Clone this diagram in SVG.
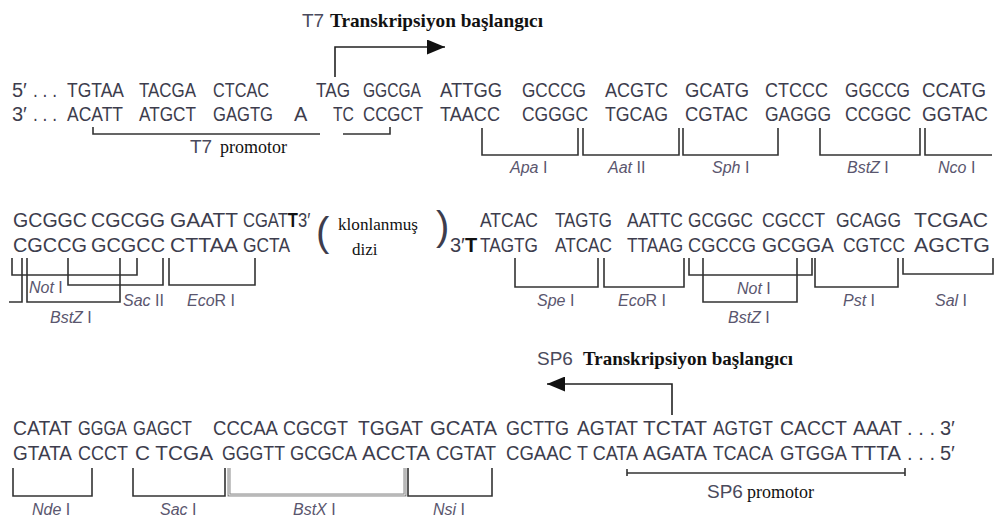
<svg xmlns="http://www.w3.org/2000/svg" width="998" height="521" viewBox="0 0 998 521">
<defs>
<style>
.s{font-family:"Liberation Sans",Arial,sans-serif;font-size:20px;fill:#3d3d4d;}
.b{font-weight:bold;fill:#111;}
.l{font-family:"Liberation Sans",Arial,sans-serif;font-size:16px;fill:#5a566e;}
.i{font-style:italic;}
.h{font-family:"Liberation Sans",Arial,sans-serif;font-size:19px;fill:#4a4a5c;}
.sf{font-family:"Liberation Serif","Times New Roman",serif;fill:#111;}
.t{font-family:"Liberation Serif","Times New Roman",serif;font-weight:bold;font-size:19px;fill:#111;}
.br{fill:none;stroke:#333;stroke-width:1.6;}
.bx{fill:none;stroke:#8a8a8a;stroke-width:3;}
.bxi{fill:none;stroke:#fff;stroke-width:0.8;}
.ar{fill:none;stroke:#222;stroke-width:1.6;}
.par{font-family:"Liberation Sans",Arial,sans-serif;font-size:40px;fill:#3d3d4d;}
</style>
<marker id="ah" markerUnits="userSpaceOnUse" markerWidth="18" markerHeight="15" refX="18" refY="7.5" orient="auto">
<path d="M0,0 L18,7.5 L0,15 z" fill="#111"/>
</marker>
</defs>
<rect width="998" height="521" fill="#fff"/>

<g id="t7-title">
<text class="h" x="302" y="27">T7</text>
<text class="t" x="330" y="27" textLength="213" lengthAdjust="spacingAndGlyphs">Transkripsiyon başlangıcı</text>
</g>

<g id="row1">
<text class="s" x="12" y="97">5′</text>
<text class="s" x="33" y="97" textLength="24" lengthAdjust="spacingAndGlyphs">. . .</text>
<text class="s" x="67" y="97" textLength="57" lengthAdjust="spacingAndGlyphs">TGTAA</text>
<text class="s" x="139" y="97" textLength="57" lengthAdjust="spacingAndGlyphs">TACGA</text>
<text class="s" x="213" y="97" textLength="56" lengthAdjust="spacingAndGlyphs">CTCAC</text>
<text class="s" x="316" y="97" textLength="34" lengthAdjust="spacingAndGlyphs">TAG</text>
<text class="s" x="363" y="97" textLength="58" lengthAdjust="spacingAndGlyphs">GGCGA</text>
<text class="s" x="440" y="97" textLength="62" lengthAdjust="spacingAndGlyphs">ATTGG</text>
<text class="s" x="522" y="97" textLength="64" lengthAdjust="spacingAndGlyphs">GCCCG</text>
<text class="s" x="605" y="97" textLength="63" lengthAdjust="spacingAndGlyphs">ACGTC</text>
<text class="s" x="685" y="97" textLength="64" lengthAdjust="spacingAndGlyphs">GCATG</text>
<text class="s" x="765" y="97" textLength="63" lengthAdjust="spacingAndGlyphs">CTCCC</text>
<text class="s" x="845" y="97" textLength="65" lengthAdjust="spacingAndGlyphs">GGCCG</text>
<text class="s" x="922" y="97" textLength="64" lengthAdjust="spacingAndGlyphs">CCATG</text>

<text class="s" x="12" y="121">3′</text>
<text class="s" x="33" y="121" textLength="24" lengthAdjust="spacingAndGlyphs">. . .</text>
<text class="s" x="67" y="121" textLength="56" lengthAdjust="spacingAndGlyphs">ACATT</text>
<text class="s" x="139" y="121" textLength="57" lengthAdjust="spacingAndGlyphs">ATGCT</text>
<text class="s" x="213" y="121" textLength="60" lengthAdjust="spacingAndGlyphs">GAGTG</text>
<text class="s" x="294" y="121">A</text>
<text class="s" x="333" y="121" textLength="21" lengthAdjust="spacingAndGlyphs">TC</text>
<text class="s" x="363" y="121" textLength="60" lengthAdjust="spacingAndGlyphs">CCGCT</text>
<text class="s" x="440" y="121" textLength="60" lengthAdjust="spacingAndGlyphs">TAACC</text>
<text class="s" x="522" y="121" textLength="66" lengthAdjust="spacingAndGlyphs">CGGGC</text>
<text class="s" x="605" y="121" textLength="63" lengthAdjust="spacingAndGlyphs">TGCAG</text>
<text class="s" x="685" y="121" textLength="63" lengthAdjust="spacingAndGlyphs">CGTAC</text>
<text class="s" x="765" y="121" textLength="66" lengthAdjust="spacingAndGlyphs">GAGGG</text>
<text class="s" x="845" y="121" textLength="66" lengthAdjust="spacingAndGlyphs">CCGGC</text>
<text class="s" x="922" y="121" textLength="66" lengthAdjust="spacingAndGlyphs">GGTAC</text>
</g>

<g id="t7-promotor-label">
<text class="h" x="190" y="153">T7</text>
<text class="sf" x="220" y="153" font-size="18">promotor</text>
</g>

<g id="row1-labels">
<text class="l" x="510" y="173"><tspan class="i">Apa</tspan> I</text>
<text class="l" x="608" y="173"><tspan class="i">Aat</tspan> II</text>
<text class="l" x="712" y="173"><tspan class="i">Sph</tspan> I</text>
<text class="l" x="847" y="173"><tspan class="i">BstZ</tspan> I</text>
<text class="l" x="938" y="173"><tspan class="i">Nco</tspan> I</text>
</g>

<g id="row2-left">
<text class="s" x="13" y="227" textLength="74" lengthAdjust="spacingAndGlyphs">GCGGC</text>
<text class="s" x="91" y="227" textLength="74" lengthAdjust="spacingAndGlyphs">CGCGG</text>
<text class="s" x="170" y="227" textLength="68" lengthAdjust="spacingAndGlyphs">GAATT</text>
<text class="s" transform="translate(243,227) scale(0.83,1)">CGAT<tspan class="b">T</tspan>3′</text>
<text class="s" x="13" y="252" textLength="74" lengthAdjust="spacingAndGlyphs">CGCCG</text>
<text class="s" x="91" y="252" textLength="74" lengthAdjust="spacingAndGlyphs">GCGCC</text>
<text class="s" x="170" y="252" textLength="68" lengthAdjust="spacingAndGlyphs">CTTAA</text>
<text class="s" x="243" y="252" textLength="47" lengthAdjust="spacingAndGlyphs">GCTA</text>
</g>

<g id="cloned">
<text class="par" x="316" y="246">(</text>
<text class="sf" x="338" y="230" font-size="17" textLength="80" lengthAdjust="spacingAndGlyphs">klonlanmuş</text>
<text class="sf" x="352" y="255" font-size="17">dizi</text>
<text class="par" x="436" y="240">)</text>
</g>

<g id="row2-right">
<text class="s" x="480" y="227" textLength="58" lengthAdjust="spacingAndGlyphs">ATCAC</text>
<text class="s" x="555" y="227" textLength="57" lengthAdjust="spacingAndGlyphs">TAGTG</text>
<text class="s" x="627" y="227" textLength="56" lengthAdjust="spacingAndGlyphs">AATTC</text>
<text class="s" x="688" y="227" textLength="65" lengthAdjust="spacingAndGlyphs">GCGGC</text>
<text class="s" x="762" y="227" textLength="63" lengthAdjust="spacingAndGlyphs">CGCCT</text>
<text class="s" x="836" y="227" textLength="65" lengthAdjust="spacingAndGlyphs">GCAGG</text>
<text class="s" x="914" y="227" textLength="74" lengthAdjust="spacingAndGlyphs">TCGAC</text>
<text class="s" x="450" y="252">3′<tspan class="b">T</tspan></text>
<text class="s" x="480" y="252" textLength="58" lengthAdjust="spacingAndGlyphs">TAGTG</text>
<text class="s" x="555" y="252" textLength="57" lengthAdjust="spacingAndGlyphs">ATCAC</text>
<text class="s" x="627" y="252" textLength="56" lengthAdjust="spacingAndGlyphs">TTAAG</text>
<text class="s" x="688" y="252" textLength="68" lengthAdjust="spacingAndGlyphs">CGCCG</text>
<text class="s" x="762" y="252" textLength="72" lengthAdjust="spacingAndGlyphs">GCGGA</text>
<text class="s" x="843" y="252" textLength="62" lengthAdjust="spacingAndGlyphs">CGTCC</text>
<text class="s" x="914" y="252" textLength="76" lengthAdjust="spacingAndGlyphs">AGCTG</text>
</g>

<g id="row2-labels">
<text class="l" x="29" y="293"><tspan class="i">Not</tspan> I</text>
<text class="l" x="123" y="306"><tspan class="i">Sac</tspan> II</text>
<text class="l" x="187" y="306"><tspan class="i">Eco</tspan>R I</text>
<text class="l" x="50" y="323"><tspan class="i">BstZ</tspan> I</text>
<text class="l" x="537" y="306"><tspan class="i">Spe</tspan> I</text>
<text class="l" x="618" y="306"><tspan class="i">Eco</tspan>R I</text>
<text class="l" x="737" y="294"><tspan class="i">Not</tspan> I</text>
<text class="l" x="728" y="323"><tspan class="i">BstZ</tspan> I</text>
<text class="l" x="843" y="306"><tspan class="i">Pst</tspan> I</text>
<text class="l" x="935" y="306"><tspan class="i">Sal</tspan> I</text>
</g>

<g id="sp6-title">
<text class="h" x="537" y="365">SP6</text>
<text class="t" x="583" y="365" textLength="210" lengthAdjust="spacingAndGlyphs">Transkripsiyon başlangıcı</text>
</g>

<g id="row3">
<text class="s" x="13" y="435" textLength="59" lengthAdjust="spacingAndGlyphs">CATAT</text>
<text class="s" x="78" y="435" textLength="49" lengthAdjust="spacingAndGlyphs">GGGA</text>
<text class="s" x="133" y="435" textLength="59" lengthAdjust="spacingAndGlyphs">GAGCT</text>
<text class="s" x="213" y="435" textLength="65" lengthAdjust="spacingAndGlyphs">CCCAA</text>
<text class="s" x="283" y="435" textLength="65" lengthAdjust="spacingAndGlyphs">CGCGT</text>
<text class="s" x="358" y="435" textLength="65" lengthAdjust="spacingAndGlyphs">TGGAT</text>
<text class="s" x="430" y="435" textLength="67" lengthAdjust="spacingAndGlyphs">GCATA</text>
<text class="s" x="506" y="435" textLength="63" lengthAdjust="spacingAndGlyphs">GCTTG</text>
<text class="s" x="577" y="435" textLength="61" lengthAdjust="spacingAndGlyphs">AGTAT</text>
<text class="s" x="643" y="435" textLength="64" lengthAdjust="spacingAndGlyphs">TCTAT</text>
<text class="s" x="713" y="435" textLength="60" lengthAdjust="spacingAndGlyphs">AGTGT</text>
<text class="s" x="780" y="435" textLength="67" lengthAdjust="spacingAndGlyphs">CACCT</text>
<text class="s" x="853" y="435" textLength="49" lengthAdjust="spacingAndGlyphs">AAAT</text>
<text class="s" x="907" y="435" textLength="28" lengthAdjust="spacingAndGlyphs">. . .</text>
<text class="s" x="940" y="435">3′</text>

<text class="s" x="13" y="460" textLength="59" lengthAdjust="spacingAndGlyphs">GTATA</text>
<text class="s" x="78" y="460" textLength="50" lengthAdjust="spacingAndGlyphs">CCCT</text>
<text class="s" x="135" y="460" textLength="78" lengthAdjust="spacingAndGlyphs">C TCGA</text>
<text class="s" x="222" y="460" textLength="63" lengthAdjust="spacingAndGlyphs">GGGTT</text>
<text class="s" x="290" y="460" textLength="67" lengthAdjust="spacingAndGlyphs">GCGCA</text>
<text class="s" x="362" y="460" textLength="68" lengthAdjust="spacingAndGlyphs">ACCTA</text>
<text class="s" x="436" y="460" textLength="60" lengthAdjust="spacingAndGlyphs">CGTAT</text>
<text class="s" x="506" y="460" textLength="66" lengthAdjust="spacingAndGlyphs">CGAAC</text>
<text class="s" x="577" y="460" textLength="61" lengthAdjust="spacingAndGlyphs">T CATA</text>
<text class="s" x="643" y="460" textLength="64" lengthAdjust="spacingAndGlyphs">AGATA</text>
<text class="s" x="713" y="460" textLength="60" lengthAdjust="spacingAndGlyphs">TCACA</text>
<text class="s" x="780" y="460" textLength="67" lengthAdjust="spacingAndGlyphs">GTGGA</text>
<text class="s" x="851" y="460" textLength="50" lengthAdjust="spacingAndGlyphs">TTTA</text>
<text class="s" x="907" y="460" textLength="28" lengthAdjust="spacingAndGlyphs">. . .</text>
<text class="s" x="940" y="460">5′</text>
</g>

<g id="row3-labels">
<text class="l" x="32" y="515"><tspan class="i">Nde</tspan> I</text>
<text class="l" x="160" y="515"><tspan class="i">Sac</tspan> I</text>
<text class="l" x="293" y="515"><tspan class="i">BstX</tspan> I</text>
<text class="l" x="433" y="515"><tspan class="i">Nsi</tspan> I</text>
</g>

<g id="sp6-promotor-label">
<text class="h" x="707" y="498">SP6</text>
<text class="sf" x="747" y="498" font-size="18">promotor</text>
</g>

<g id="connectors">
<path class="ar" d="M335,77 V47 H445" marker-end="url(#ah)"/>
<path class="ar" d="M672,415 V384 H547" marker-end="url(#ah)"/>

<path class="br" d="M93,127 V134 H320 M343,134 H390 V127"/>
<path class="br" d="M482,128 V155 H578 V128"/>
<path class="br" d="M583,128 V155 H679 V128"/>
<path class="br" d="M683,128 V155 H778 V128"/>
<path class="br" d="M820,128 V155 H920 V128"/>
<path class="br" d="M925,128 V155 H992"/>

<path class="br" d="M12,258 V275 H137 V258"/>
<path class="br" d="M9,302 H22 V258"/>
<path class="br" d="M27,258 V302 H120 V258"/>
<path class="br" d="M68,258 V285 H163 V258"/>
<path class="br" d="M169,258 V285 H255 V258"/>

<path class="br" d="M515,258 V287 H598 V258"/>
<path class="br" d="M604,258 V287 H684 V258"/>
<path class="br" d="M689,258 V275 H812 V258"/>
<path class="br" d="M703,258 V302 H797 V258"/>
<path class="br" d="M815,258 V287 H898 V258"/>
<path class="br" d="M903,258 V274 H993 V258"/>

<path class="br" d="M13,468 V496 H92 V468"/>
<path class="br" d="M133,468 V496 H225 V468"/>
<path class="bx" d="M229,468 V495 H405 V468"/>
<path class="bxi" d="M229,468 V495 H405 V468"/>
<path class="br" d="M408,468 V496 H492 V468"/>
<path class="br" d="M627,469 V476 M627,473 H905 M905,468 V476"/>
</g>
</svg>
